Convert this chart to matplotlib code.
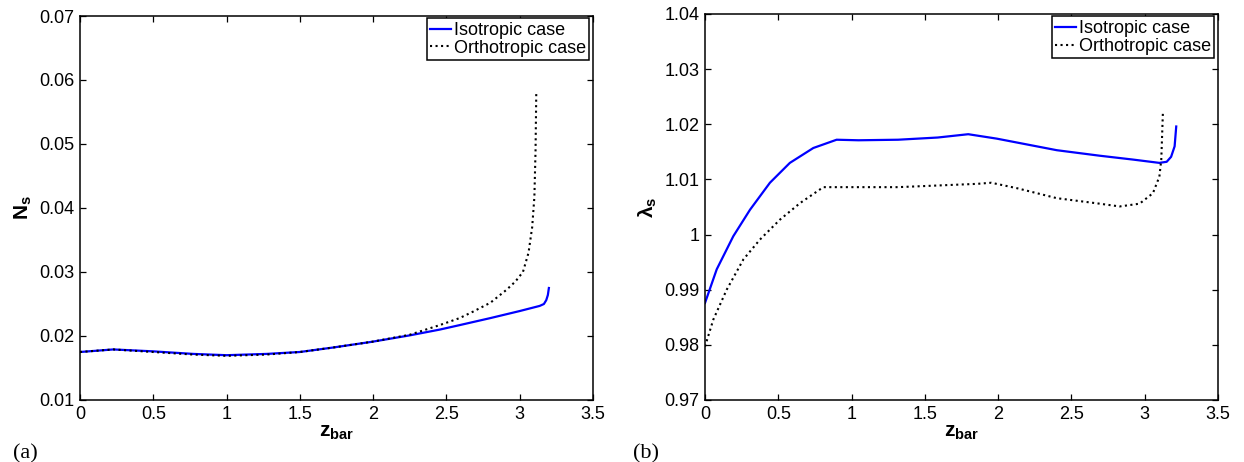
import matplotlib
matplotlib.use('Agg')
import matplotlib.pyplot as plt
import numpy as np

plt.rcParams['font.family'] = ['Liberation Sans', 'DejaVu Sans']
plt.rcParams['mathtext.fontset'] = 'custom'
plt.rcParams['mathtext.rm'] = 'Liberation Sans'
plt.rcParams['mathtext.it'] = 'Liberation Sans'
plt.rcParams['mathtext.bf'] = 'Liberation Sans:bold'

# (a) N_s vs z_bar
ns_iso_z = [0, 0.227, 0.5, 0.773, 1.0, 1.273, 1.5, 1.727, 1.993, 2.25, 2.454, 2.59, 2.8, 3.0,
            3.136, 3.165, 3.181, 3.192, 3.199]
ns_iso = [0.0175, 0.0179, 0.0176, 0.0172, 0.0170, 0.0172, 0.0175, 0.0182, 0.0191, 0.0201, 0.0210,
          0.0217, 0.0228, 0.0239, 0.0247, 0.0250, 0.0256, 0.0264, 0.0275]
ns_orth_z = [0, 0.227, 0.5, 0.773, 1.0, 1.273, 1.5, 1.727, 1.993, 2.25, 2.454, 2.59, 2.681, 2.8,
             2.909, 2.97, 3.022, 3.06, 3.085, 3.10, 3.108, 3.113]
ns_orth = [0.0175, 0.0179, 0.0175, 0.0171, 0.0169, 0.0171, 0.0175, 0.0182, 0.0191, 0.0202, 0.0217,
           0.0228, 0.0238, 0.0252, 0.0272, 0.0285, 0.0300, 0.0330, 0.0370, 0.0417, 0.0490, 0.0581]

# (b) lambda_s vs z_bar
lam_iso_z = [0, 0.08, 0.193, 0.307, 0.443, 0.579, 0.739, 0.898, 1.047, 1.317, 1.588, 1.796, 1.99,
             2.40, 2.693, 2.92, 3.10, 3.15, 3.18, 3.204, 3.215]
lam_iso = [0.9876, 0.9937, 0.9997, 1.0045, 1.0094, 1.0130, 1.0157, 1.0172, 1.0171, 1.0172, 1.0176,
           1.0182, 1.0174, 1.0153, 1.0143, 1.0136, 1.0130, 1.0132, 1.0141, 1.0160, 1.0196]
lam_orth_z = [0, 0.057, 0.148, 0.262, 0.375, 0.511, 0.648, 0.807, 1.047, 1.317, 1.588, 1.858,
              1.953, 2.13, 2.40, 2.693, 2.829, 2.965, 3.056, 3.10, 3.113, 3.124]
lam_orth = [0.9797, 0.9846, 0.9900, 0.9955, 0.9991, 1.0027, 1.0057, 1.0086, 1.0086, 1.0086, 1.0089,
            1.0092, 1.0094, 1.0084, 1.0066, 1.0056, 1.0051, 1.0056, 1.0075, 1.0105, 1.0136, 1.0221]

labels = ['Isotropic case', 'Orthotropic case']

fig = plt.figure(figsize=(12.44, 4.62), dpi=100)
ax1 = fig.add_axes([80 / 1244, 62 / 462, 513 / 1244, 384 / 462])
ax2 = fig.add_axes([705 / 1244, 62 / 462, 513 / 1244, 386 / 462])


def style(ax):
    ax.tick_params(direction='in', top=True, right=True, labelsize=13, length=4, width=0.9, pad=4)
    for s in ax.spines.values():
        s.set_linewidth(1.1)
    ax.set_xlim(0, 3.5)
    ax.set_xticks(np.arange(0, 3.51, 0.5))
    ax.set_xticklabels(['0', '0.5', '1', '1.5', '2', '2.5', '3', '3.5'])
    ax.set_xlabel(r'$\mathbf{z_{bar}}$', fontsize=15, labelpad=0)
    leg = ax.legend(labels, loc='upper right', bbox_to_anchor=(0.993, 0.994), fontsize=13,
                    fancybox=False, edgecolor='black', framealpha=1, borderaxespad=0,
                    handlelength=1.15, handletextpad=0.15, labelspacing=0.05, borderpad=0.2)
    leg.get_frame().set_linewidth(1.1)


ax1.plot(ns_iso_z, ns_iso, color='blue', lw=1.6)
ax1.plot(ns_orth_z, ns_orth, color='black', ls=':', lw=1.5)
ax1.set_ylim(0.01, 0.07)
ax1.set_yticks(np.arange(0.01, 0.0701, 0.01))
ax1.set_yticklabels(['0.01', '0.02', '0.03', '0.04', '0.05', '0.06', '0.07'])
ax1.set_ylabel(r'$\mathbf{N_s}$', fontsize=15, labelpad=4)
style(ax1)

ax2.plot(lam_iso_z, lam_iso, color='blue', lw=1.6)
ax2.plot(lam_orth_z, lam_orth, color='black', ls=':', lw=1.5)
ax2.set_ylim(0.97, 1.04)
ax2.set_yticks(np.arange(0.97, 1.0401, 0.01))
ax2.set_yticklabels(['0.97', '0.98', '0.99', '1', '1.01', '1.02', '1.03', '1.04'])
ax2.set_ylabel(r'$\mathbf{\lambda_s}$', fontsize=15, labelpad=4)
style(ax2)

fig.text(13 / 1244, 4 / 462, '(a)', fontsize=16, family='Liberation Serif')
fig.text(633 / 1244, 4 / 462, '(b)', fontsize=16, family='Liberation Serif')

fig.savefig('out.png', dpi=100)
